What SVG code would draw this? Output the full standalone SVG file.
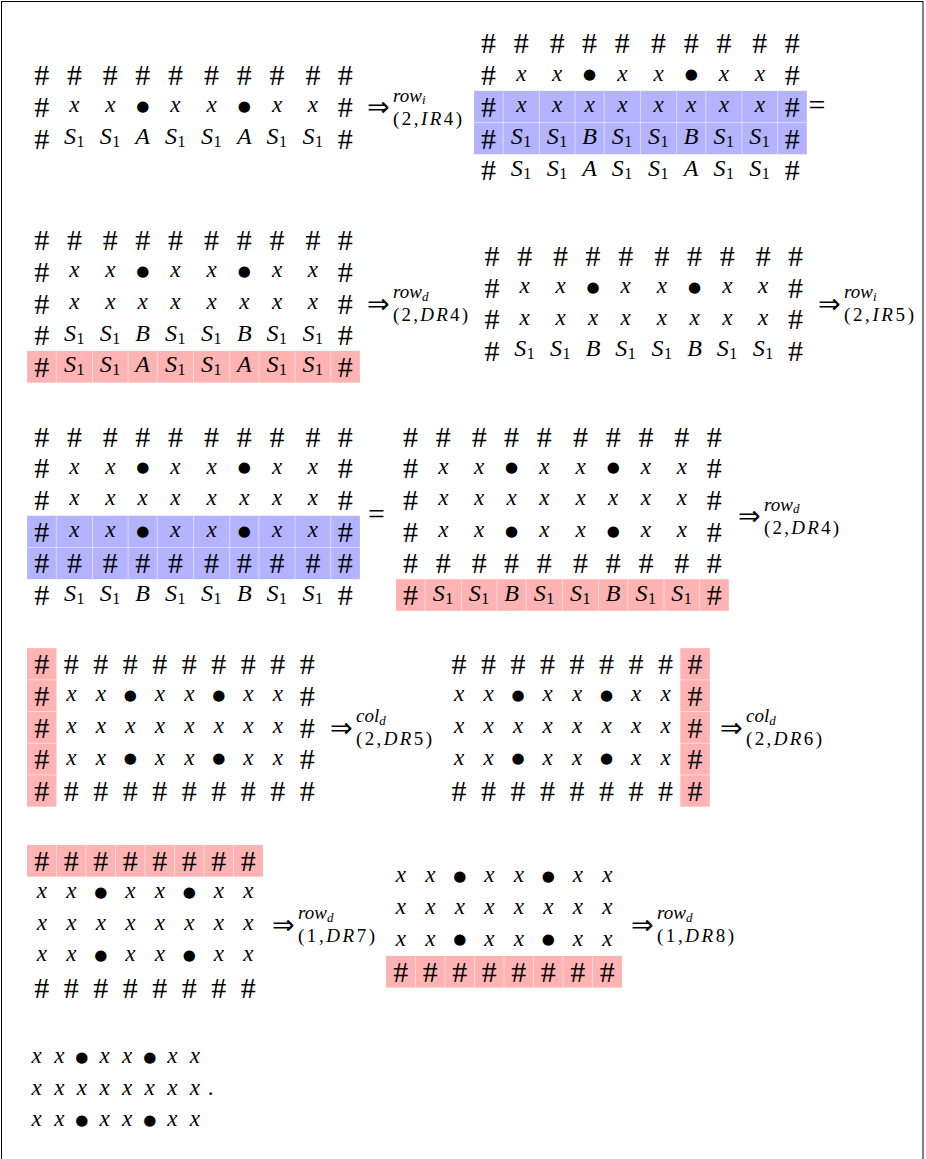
<svg xmlns="http://www.w3.org/2000/svg" width="926" height="1159" viewBox="0 0 926 1159">
<style>
.m{text-anchor:middle}
.h{font-family:"Liberation Serif",serif;font-size:30px;text-anchor:middle}
.v{font-family:"Liberation Serif",serif;font-style:italic;font-size:23px;text-anchor:middle}
.c{font-family:"Liberation Serif",serif;font-style:italic;font-size:24px;text-anchor:middle}
.n{font-family:"Liberation Serif",serif;font-size:16px;text-anchor:middle}
.b{font-family:"DejaVu Sans",sans-serif;font-size:15px;text-anchor:middle}
.p{font-family:"Liberation Serif",serif;font-size:23px;text-anchor:middle}
.lb{text-anchor:start}
.ar{font-family:"DejaVu Sans",sans-serif;font-size:27px}
.eq{font-family:"Liberation Serif",serif;font-size:30px;text-anchor:middle}
.sp{font-family:"Liberation Serif",serif;font-style:italic;font-size:19px}
.ss{font-family:"Liberation Serif",serif;font-style:italic;font-size:13px}
.sb{font-family:"Liberation Serif",serif;font-size:19px;font-style:normal}
.it{font-style:italic}
.blue{fill:#b3b3ff}
.red{fill:#ffb3b3}
.div{stroke:#ffffff;stroke-opacity:0.5;stroke-width:1;fill:none}
</style>
<rect x="1.5" y="1.5" width="921.5" height="1170" fill="#fff" stroke="#000" stroke-width="1"/>

<g id="m1" transform="translate(27.1,0)">
<text class="m"><tspan class="h" x="14.6 47.3 83.2 115.6 148.3 184.5 217.2 249.9 285.8 318.2" y="85.1">##########</tspan><tspan class="h" x="14.6" y="116.8">#</tspan><tspan class="v" x="47.3 83.2" y="112.2">xx</tspan><tspan class="b" x="115.6" y="110.7">●</tspan><tspan class="v" x="148.3 184.5" y="112.2">xx</tspan><tspan class="b" x="217.2" y="110.7">●</tspan><tspan class="v" x="249.9 285.8" y="112.2">xx</tspan><tspan class="h" x="318.2" y="116.8">#</tspan><tspan class="h" x="14.6" y="148.5">#</tspan><tspan class="c" x="42.8" y="143.9">S</tspan><tspan class="n" x="53.3" y="146.9">1</tspan><tspan class="c" x="78.7" y="143.9">S</tspan><tspan class="n" x="89.2" y="146.9">1</tspan><tspan class="c" x="115.6" y="143.9">A</tspan><tspan class="c" x="143.8">S</tspan><tspan class="n" x="154.3" y="146.9">1</tspan><tspan class="c" x="180" y="143.9">S</tspan><tspan class="n" x="190.5" y="146.9">1</tspan><tspan class="c" x="217.2" y="143.9">A</tspan><tspan class="c" x="245.4">S</tspan><tspan class="n" x="255.9" y="146.9">1</tspan><tspan class="c" x="281.3" y="143.9">S</tspan><tspan class="n" x="291.8" y="146.9">1</tspan><tspan class="h" x="318.2" y="148.5">#</tspan></text>
</g>

<g id="m2" transform="translate(474,0)">
<rect class="blue" x="0" y="90.85" width="332.8" height="63.4"/>
<path class="div" d="M29.2 90.85V154.25M65.4 90.85V154.25M101 90.85V154.25M130.2 90.85V154.25M166.4 90.85V154.25M202.6 90.85V154.25M231.8 90.85V154.25M268 90.85V154.25M303.6 90.85V154.25M0 122.55H332.8"/>
<text class="m"><tspan class="h" x="14.6 47.3 83.2 115.6 148.3 184.5 217.2 249.9 285.8 318.2" y="53.4">##########</tspan><tspan class="h" x="14.6" y="85.1">#</tspan><tspan class="v" x="47.3 83.2" y="80.5">xx</tspan><tspan class="b" x="115.6" y="79">●</tspan><tspan class="v" x="148.3 184.5" y="80.5">xx</tspan><tspan class="b" x="217.2" y="79">●</tspan><tspan class="v" x="249.9 285.8" y="80.5">xx</tspan><tspan class="h" x="318.2" y="85.1">#</tspan><tspan class="h" x="14.6" y="116.8">#</tspan><tspan class="v" x="47.3 83.2 115.6 148.3 184.5 217.2 249.9 285.8" y="112.2">xxxxxxxx</tspan><tspan class="h" x="318.2" y="116.8">#</tspan><tspan class="h" x="14.6" y="148.5">#</tspan><tspan class="c" x="42.8" y="143.9">S</tspan><tspan class="n" x="53.3" y="146.9">1</tspan><tspan class="c" x="78.7" y="143.9">S</tspan><tspan class="n" x="89.2" y="146.9">1</tspan><tspan class="c" x="115.6" y="143.9">B</tspan><tspan class="c" x="143.8">S</tspan><tspan class="n" x="154.3" y="146.9">1</tspan><tspan class="c" x="180" y="143.9">S</tspan><tspan class="n" x="190.5" y="146.9">1</tspan><tspan class="c" x="217.2" y="143.9">B</tspan><tspan class="c" x="245.4">S</tspan><tspan class="n" x="255.9" y="146.9">1</tspan><tspan class="c" x="281.3" y="143.9">S</tspan><tspan class="n" x="291.8" y="146.9">1</tspan><tspan class="h" x="318.2" y="148.5">#</tspan><tspan class="h" x="14.6" y="180.2">#</tspan><tspan class="c" x="42.8" y="175.6">S</tspan><tspan class="n" x="53.3" y="178.6">1</tspan><tspan class="c" x="78.7" y="175.6">S</tspan><tspan class="n" x="89.2" y="178.6">1</tspan><tspan class="c" x="115.6" y="175.6">A</tspan><tspan class="c" x="143.8">S</tspan><tspan class="n" x="154.3" y="178.6">1</tspan><tspan class="c" x="180" y="175.6">S</tspan><tspan class="n" x="190.5" y="178.6">1</tspan><tspan class="c" x="217.2" y="175.6">A</tspan><tspan class="c" x="245.4">S</tspan><tspan class="n" x="255.9" y="178.6">1</tspan><tspan class="c" x="281.3" y="175.6">S</tspan><tspan class="n" x="291.8" y="178.6">1</tspan><tspan class="h" x="318.2" y="180.2">#</tspan></text>
</g>

<g id="m3" transform="translate(27.1,0)">
<rect class="red" x="0" y="350.95" width="332.8" height="31.7"/>
<path class="div" d="M29.2 350.95v31.7M65.4 350.95v31.7M101 350.95v31.7M130.2 350.95v31.7M166.4 350.95v31.7M202.6 350.95v31.7M231.8 350.95v31.7M268 350.95v31.7M303.6 350.95v31.7"/>
<text class="m"><tspan class="h" x="14.6 47.3 83.2 115.6 148.3 184.5 217.2 249.9 285.8 318.2" y="250.1">##########</tspan><tspan class="h" x="14.6" y="281.8">#</tspan><tspan class="v" x="47.3 83.2" y="277.2">xx</tspan><tspan class="b" x="115.6" y="275.7">●</tspan><tspan class="v" x="148.3 184.5" y="277.2">xx</tspan><tspan class="b" x="217.2" y="275.7">●</tspan><tspan class="v" x="249.9 285.8" y="277.2">xx</tspan><tspan class="h" x="318.2" y="281.8">#</tspan><tspan class="h" x="14.6" y="313.5">#</tspan><tspan class="v" x="47.3 83.2 115.6 148.3 184.5 217.2 249.9 285.8" y="308.9">xxxxxxxx</tspan><tspan class="h" x="318.2" y="313.5">#</tspan><tspan class="h" x="14.6" y="345.2">#</tspan><tspan class="c" x="42.8" y="340.6">S</tspan><tspan class="n" x="53.3" y="343.6">1</tspan><tspan class="c" x="78.7" y="340.6">S</tspan><tspan class="n" x="89.2" y="343.6">1</tspan><tspan class="c" x="115.6" y="340.6">B</tspan><tspan class="c" x="143.8">S</tspan><tspan class="n" x="154.3" y="343.6">1</tspan><tspan class="c" x="180" y="340.6">S</tspan><tspan class="n" x="190.5" y="343.6">1</tspan><tspan class="c" x="217.2" y="340.6">B</tspan><tspan class="c" x="245.4">S</tspan><tspan class="n" x="255.9" y="343.6">1</tspan><tspan class="c" x="281.3" y="340.6">S</tspan><tspan class="n" x="291.8" y="343.6">1</tspan><tspan class="h" x="318.2" y="345.2">#</tspan><tspan class="h" x="14.6" y="376.9">#</tspan><tspan class="c" x="42.8" y="372.3">S</tspan><tspan class="n" x="53.3" y="375.3">1</tspan><tspan class="c" x="78.7" y="372.3">S</tspan><tspan class="n" x="89.2" y="375.3">1</tspan><tspan class="c" x="115.6" y="372.3">A</tspan><tspan class="c" x="143.8">S</tspan><tspan class="n" x="154.3" y="375.3">1</tspan><tspan class="c" x="180" y="372.3">S</tspan><tspan class="n" x="190.5" y="375.3">1</tspan><tspan class="c" x="217.2" y="372.3">A</tspan><tspan class="c" x="245.4">S</tspan><tspan class="n" x="255.9" y="375.3">1</tspan><tspan class="c" x="281.3" y="372.3">S</tspan><tspan class="n" x="291.8" y="375.3">1</tspan><tspan class="h" x="318.2" y="376.9">#</tspan></text>
</g>

<g id="m4" transform="translate(477.4,0)">
<text class="m"><tspan class="h" x="14.6 47.3 83.2 115.6 148.3 184.5 217.2 249.9 285.8 318.2" y="265.95">##########</tspan><tspan class="h" x="14.6" y="297.65">#</tspan><tspan class="v" x="47.3 83.2" y="293.05">xx</tspan><tspan class="b" x="115.6" y="291.55">●</tspan><tspan class="v" x="148.3 184.5" y="293.05">xx</tspan><tspan class="b" x="217.2" y="291.55">●</tspan><tspan class="v" x="249.9 285.8" y="293.05">xx</tspan><tspan class="h" x="318.2" y="297.65">#</tspan><tspan class="h" x="14.6" y="329.35">#</tspan><tspan class="v" x="47.3 83.2 115.6 148.3 184.5 217.2 249.9 285.8" y="324.75">xxxxxxxx</tspan><tspan class="h" x="318.2" y="329.35">#</tspan><tspan class="h" x="14.6" y="361.05">#</tspan><tspan class="c" x="42.8" y="356.45">S</tspan><tspan class="n" x="53.3" y="359.45">1</tspan><tspan class="c" x="78.7" y="356.45">S</tspan><tspan class="n" x="89.2" y="359.45">1</tspan><tspan class="c" x="115.6" y="356.45">B</tspan><tspan class="c" x="143.8">S</tspan><tspan class="n" x="154.3" y="359.45">1</tspan><tspan class="c" x="180" y="356.45">S</tspan><tspan class="n" x="190.5" y="359.45">1</tspan><tspan class="c" x="217.2" y="356.45">B</tspan><tspan class="c" x="245.4">S</tspan><tspan class="n" x="255.9" y="359.45">1</tspan><tspan class="c" x="281.3" y="356.45">S</tspan><tspan class="n" x="291.8" y="359.45">1</tspan><tspan class="h" x="318.2" y="361.05">#</tspan></text>
</g>

<g id="m5" transform="translate(27.1,0)">
<rect class="blue" x="0" y="515.75" width="332.8" height="63.4"/>
<path class="div" d="M29.2 515.75v63.4M65.4 515.75v63.4M101 515.75v63.4M130.2 515.75v63.4M166.4 515.75v63.4M202.6 515.75v63.4M231.8 515.75v63.4M268 515.75v63.4M303.6 515.75v63.4M0 547.45H332.8"/>
<text class="m"><tspan class="h" x="14.6 47.3 83.2 115.6 148.3 184.5 217.2 249.9 285.8 318.2" y="446.6">##########</tspan><tspan class="h" x="14.6" y="478.3">#</tspan><tspan class="v" x="47.3 83.2" y="473.7">xx</tspan><tspan class="b" x="115.6" y="472.2">●</tspan><tspan class="v" x="148.3 184.5" y="473.7">xx</tspan><tspan class="b" x="217.2" y="472.2">●</tspan><tspan class="v" x="249.9 285.8" y="473.7">xx</tspan><tspan class="h" x="318.2" y="478.3">#</tspan><tspan class="h" x="14.6" y="510">#</tspan><tspan class="v" x="47.3 83.2 115.6 148.3 184.5 217.2 249.9 285.8" y="505.4">xxxxxxxx</tspan><tspan class="h" x="318.2" y="510">#</tspan><tspan class="h" x="14.6" y="541.7">#</tspan><tspan class="v" x="47.3 83.2" y="537.1">xx</tspan><tspan class="b" x="115.6" y="535.6">●</tspan><tspan class="v" x="148.3 184.5" y="537.1">xx</tspan><tspan class="b" x="217.2" y="535.6">●</tspan><tspan class="v" x="249.9 285.8" y="537.1">xx</tspan><tspan class="h" x="318.2" y="541.7">#</tspan><tspan class="h" x="14.6 47.3 83.2 115.6 148.3 184.5 217.2 249.9 285.8 318.2" y="573.4">##########</tspan><tspan class="h" x="14.6" y="605.1">#</tspan><tspan class="c" x="42.8" y="600.5">S</tspan><tspan class="n" x="53.3" y="603.5">1</tspan><tspan class="c" x="78.7" y="600.5">S</tspan><tspan class="n" x="89.2" y="603.5">1</tspan><tspan class="c" x="115.6" y="600.5">B</tspan><tspan class="c" x="143.8">S</tspan><tspan class="n" x="154.3" y="603.5">1</tspan><tspan class="c" x="180" y="600.5">S</tspan><tspan class="n" x="190.5" y="603.5">1</tspan><tspan class="c" x="217.2" y="600.5">B</tspan><tspan class="c" x="245.4">S</tspan><tspan class="n" x="255.9" y="603.5">1</tspan><tspan class="c" x="281.3" y="600.5">S</tspan><tspan class="n" x="291.8" y="603.5">1</tspan><tspan class="h" x="318.2" y="605.1">#</tspan></text>
</g>

<g id="m6" transform="translate(396,0)">
<rect class="red" x="0" y="579.15" width="332.8" height="31.7"/>
<path class="div" d="M29.2 579.15v31.7M65.4 579.15v31.7M101 579.15v31.7M130.2 579.15v31.7M166.4 579.15v31.7M202.6 579.15v31.7M231.8 579.15v31.7M268 579.15v31.7M303.6 579.15v31.7"/>
<text class="m"><tspan class="h" x="14.6 47.3 83.2 115.6 148.3 184.5 217.2 249.9 285.8 318.2" y="446.6">##########</tspan><tspan class="h" x="14.6" y="478.3">#</tspan><tspan class="v" x="47.3 83.2" y="473.7">xx</tspan><tspan class="b" x="115.6" y="472.2">●</tspan><tspan class="v" x="148.3 184.5" y="473.7">xx</tspan><tspan class="b" x="217.2" y="472.2">●</tspan><tspan class="v" x="249.9 285.8" y="473.7">xx</tspan><tspan class="h" x="318.2" y="478.3">#</tspan><tspan class="h" x="14.6" y="510">#</tspan><tspan class="v" x="47.3 83.2 115.6 148.3 184.5 217.2 249.9 285.8" y="505.4">xxxxxxxx</tspan><tspan class="h" x="318.2" y="510">#</tspan><tspan class="h" x="14.6" y="541.7">#</tspan><tspan class="v" x="47.3 83.2" y="537.1">xx</tspan><tspan class="b" x="115.6" y="535.6">●</tspan><tspan class="v" x="148.3 184.5" y="537.1">xx</tspan><tspan class="b" x="217.2" y="535.6">●</tspan><tspan class="v" x="249.9 285.8" y="537.1">xx</tspan><tspan class="h" x="318.2" y="541.7">#</tspan><tspan class="h" x="14.6 47.3 83.2 115.6 148.3 184.5 217.2 249.9 285.8 318.2" y="573.4">##########</tspan><tspan class="h" x="14.6" y="605.1">#</tspan><tspan class="c" x="42.8" y="600.5">S</tspan><tspan class="n" x="53.3" y="603.5">1</tspan><tspan class="c" x="78.7" y="600.5">S</tspan><tspan class="n" x="89.2" y="603.5">1</tspan><tspan class="c" x="115.6" y="600.5">B</tspan><tspan class="c" x="143.8">S</tspan><tspan class="n" x="154.3" y="603.5">1</tspan><tspan class="c" x="180" y="600.5">S</tspan><tspan class="n" x="190.5" y="603.5">1</tspan><tspan class="c" x="217.2" y="600.5">B</tspan><tspan class="c" x="245.4">S</tspan><tspan class="n" x="255.9" y="603.5">1</tspan><tspan class="c" x="281.3" y="600.5">S</tspan><tspan class="n" x="291.8" y="603.5">1</tspan><tspan class="h" x="318.2" y="605.1">#</tspan></text>
</g>

<g id="m7" transform="translate(27,0)">
<rect class="red" x="0" y="648.15" width="29.5" height="158.5"/>
<path class="div" d="M0 679.85h29.5M0 711.55h29.5M0 743.25h29.5M0 774.95h29.5"/>
<text class="m"><tspan class="h" x="14.75 44.25 73.75 103.25 132.75 162.25 191.75 221.25 250.75 280.25" y="674.1">##########</tspan><tspan class="h" x="14.75" y="705.8">#</tspan><tspan class="v" x="44.25 73.75" y="701.2">xx</tspan><tspan class="b" x="103.25" y="699.7">●</tspan><tspan class="v" x="132.75 162.25" y="701.2">xx</tspan><tspan class="b" x="191.75" y="699.7">●</tspan><tspan class="v" x="221.25 250.75" y="701.2">xx</tspan><tspan class="h" x="280.25" y="705.8">#</tspan><tspan class="h" x="14.75" y="737.5">#</tspan><tspan class="v" x="44.25 73.75 103.25 132.75 162.25 191.75 221.25 250.75" y="732.9">xxxxxxxx</tspan><tspan class="h" x="280.25" y="737.5">#</tspan><tspan class="h" x="14.75" y="769.2">#</tspan><tspan class="v" x="44.25 73.75" y="764.6">xx</tspan><tspan class="b" x="103.25" y="763.1">●</tspan><tspan class="v" x="132.75 162.25" y="764.6">xx</tspan><tspan class="b" x="191.75" y="763.1">●</tspan><tspan class="v" x="221.25 250.75" y="764.6">xx</tspan><tspan class="h" x="280.25" y="769.2">#</tspan><tspan class="h" x="14.75 44.25 73.75 103.25 132.75 162.25 191.75 221.25 250.75 280.25" y="800.9">##########</tspan></text>
</g>

<g id="m8" transform="translate(444.3,0)">
<rect class="red" x="236" y="648.15" width="29.5" height="158.5"/>
<path class="div" d="M236 679.85h29.5M236 711.55h29.5M236 743.25h29.5M236 774.95h29.5"/>
<text class="m"><tspan class="h" x="14.75 44.25 73.75 103.25 132.75 162.25 191.75 221.25 250.75" y="674.1">#########</tspan><tspan class="v" x="14.75 44.25" y="701.2">xx</tspan><tspan class="b" x="73.75" y="699.7">●</tspan><tspan class="v" x="103.25 132.75" y="701.2">xx</tspan><tspan class="b" x="162.25" y="699.7">●</tspan><tspan class="v" x="191.75 221.25" y="701.2">xx</tspan><tspan class="h" x="250.75" y="705.8">#</tspan><tspan class="v" x="14.75 44.25 73.75 103.25 132.75 162.25 191.75 221.25" y="732.9">xxxxxxxx</tspan><tspan class="h" x="250.75" y="737.5">#</tspan><tspan class="v" x="14.75 44.25" y="764.6">xx</tspan><tspan class="b" x="73.75" y="763.1">●</tspan><tspan class="v" x="103.25 132.75" y="764.6">xx</tspan><tspan class="b" x="162.25" y="763.1">●</tspan><tspan class="v" x="191.75 221.25" y="764.6">xx</tspan><tspan class="h" x="250.75" y="769.2">#</tspan><tspan class="h" x="14.75 44.25 73.75 103.25 132.75 162.25 191.75 221.25 250.75" y="800.9">#########</tspan></text>
</g>

<g id="m9" transform="translate(27,0)">
<rect class="red" x="0" y="844.95" width="236" height="31.7"/>
<path class="div" d="M29.5 844.95v31.7M59 844.95v31.7M88.5 844.95v31.7M118 844.95v31.7M147.5 844.95v31.7M177 844.95v31.7M206.5 844.95v31.7"/>
<text class="m"><tspan class="h" x="14.75 44.25 73.75 103.25 132.75 162.25 191.75 221.25" y="870.9">########</tspan><tspan class="v" x="14.75 44.25" y="898">xx</tspan><tspan class="b" x="73.75" y="896.5">●</tspan><tspan class="v" x="103.25 132.75" y="898">xx</tspan><tspan class="b" x="162.25" y="896.5">●</tspan><tspan class="v" x="191.75 221.25" y="898">xx</tspan><tspan class="v" x="14.75 44.25 73.75 103.25 132.75 162.25 191.75 221.25" y="929.7">xxxxxxxx</tspan><tspan class="v" x="14.75 44.25" y="961.4">xx</tspan><tspan class="b" x="73.75" y="959.9">●</tspan><tspan class="v" x="103.25 132.75" y="961.4">xx</tspan><tspan class="b" x="162.25" y="959.9">●</tspan><tspan class="v" x="191.75 221.25" y="961.4">xx</tspan><tspan class="h" x="14.75 44.25 73.75 103.25 132.75 162.25 191.75 221.25" y="997.7">########</tspan></text>
</g>

<g id="m10" transform="translate(386,0)">
<rect class="red" x="0" y="955.9" width="236" height="31.7"/>
<path class="div" d="M29.5 955.9v31.7M59 955.9v31.7M88.5 955.9v31.7M118 955.9v31.7M147.5 955.9v31.7M177 955.9v31.7M206.5 955.9v31.7"/>
<text class="m"><tspan class="v" x="14.75 44.25" y="882.15">xx</tspan><tspan class="b" x="73.75" y="880.65">●</tspan><tspan class="v" x="103.25 132.75" y="882.15">xx</tspan><tspan class="b" x="162.25" y="880.65">●</tspan><tspan class="v" x="191.75 221.25" y="882.15">xx</tspan><tspan class="v" x="14.75 44.25 73.75 103.25 132.75 162.25 191.75 221.25" y="913.85">xxxxxxxx</tspan><tspan class="v" x="14.75 44.25" y="945.55">xx</tspan><tspan class="b" x="73.75" y="944.05">●</tspan><tspan class="v" x="103.25 132.75" y="945.55">xx</tspan><tspan class="b" x="162.25" y="944.05">●</tspan><tspan class="v" x="191.75 221.25" y="945.55">xx</tspan><tspan class="h" x="14.75 44.25 73.75 103.25 132.75 162.25 191.75 221.25" y="981.85">########</tspan></text>
</g>

<g id="m11">
<text class="m"><tspan class="v" x="36.7 59.3" y="1063">xx</tspan><tspan class="b" x="81.9" y="1061.5">●</tspan><tspan class="v" x="104.5 127.1" y="1063">xx</tspan><tspan class="b" x="149.7" y="1061.5">●</tspan><tspan class="v" x="172.3 194.9" y="1063">xx</tspan><tspan class="v" x="36.7 59.3 81.9 104.5 127.1 149.7 172.3 194.9" y="1094.7">xxxxxxxx</tspan><tspan class="p" x="210.7" y="1094.7">.</tspan><tspan class="v" x="36.7 59.3" y="1126.4">xx</tspan><tspan class="b" x="81.9" y="1124.9">●</tspan><tspan class="v" x="104.5 127.1" y="1126.4">xx</tspan><tspan class="b" x="149.7" y="1124.9">●</tspan><tspan class="v" x="172.3 194.9" y="1126.4">xx</tspan></text>
</g>

<g id="connectors">
<text class="lb" x="367" y="116.4"><tspan class="ar">⇒</tspan><tspan class="sp" x="393" y="101.7">row</tspan><tspan class="ss" dy="2.5">i</tspan><tspan class="sb" x="393" y="124.7" textLength="69" lengthAdjust="spacing">(2,<tspan class="it">IR</tspan>4)</tspan></text>
<text class="eq" x="817" y="115.2">=</text>

<text class="lb" x="367" y="313.1"><tspan class="ar">⇒</tspan><tspan class="sp" x="393" y="298.4">row</tspan><tspan class="ss" dy="2.5">d</tspan><tspan class="sb" x="393" y="321.4" textLength="75" lengthAdjust="spacing">(2,<tspan class="it">DR</tspan>4)</tspan></text>

<text class="lb" x="818" y="313.1"><tspan class="ar">⇒</tspan><tspan class="sp" x="844" y="298.4">row</tspan><tspan class="ss" dy="2.5">i</tspan><tspan class="sb" x="844" y="321.4" textLength="70" lengthAdjust="spacing">(2,<tspan class="it">IR</tspan>5)</tspan></text>

<text class="eq" x="376.5" y="524.25">=</text>
<text class="lb" x="738" y="525.45"><tspan class="ar">⇒</tspan><tspan class="sp" x="764" y="510.75">row</tspan><tspan class="ss" dy="2.5">d</tspan><tspan class="sb" x="764" y="533.75" textLength="75" lengthAdjust="spacing">(2,<tspan class="it">DR</tspan>4)</tspan></text>

<text class="lb" x="330" y="737.1"><tspan class="ar">⇒</tspan><tspan class="sp" x="356" y="722.4">col</tspan><tspan class="ss" dy="2.5">d</tspan><tspan class="sb" x="356" y="745.4" textLength="76" lengthAdjust="spacing">(2,<tspan class="it">DR</tspan>5)</tspan></text>

<text class="lb" x="720" y="737.1"><tspan class="ar">⇒</tspan><tspan class="sp" x="746" y="722.4">col</tspan><tspan class="ss" dy="2.5">d</tspan><tspan class="sb" x="746" y="745.4" textLength="76" lengthAdjust="spacing">(2,<tspan class="it">DR</tspan>6)</tspan></text>

<text class="lb" x="272" y="933.9"><tspan class="ar">⇒</tspan><tspan class="sp" x="298" y="919.2">row</tspan><tspan class="ss" dy="2.5">d</tspan><tspan class="sb" x="298" y="942.2" textLength="77" lengthAdjust="spacing">(1,<tspan class="it">DR</tspan>7)</tspan></text>

<text class="lb" x="631" y="933.9"><tspan class="ar">⇒</tspan><tspan class="sp" x="657" y="919.2">row</tspan><tspan class="ss" dy="2.5">d</tspan><tspan class="sb" x="657" y="942.2" textLength="77" lengthAdjust="spacing">(1,<tspan class="it">DR</tspan>8)</tspan></text>
</g>
</svg>
